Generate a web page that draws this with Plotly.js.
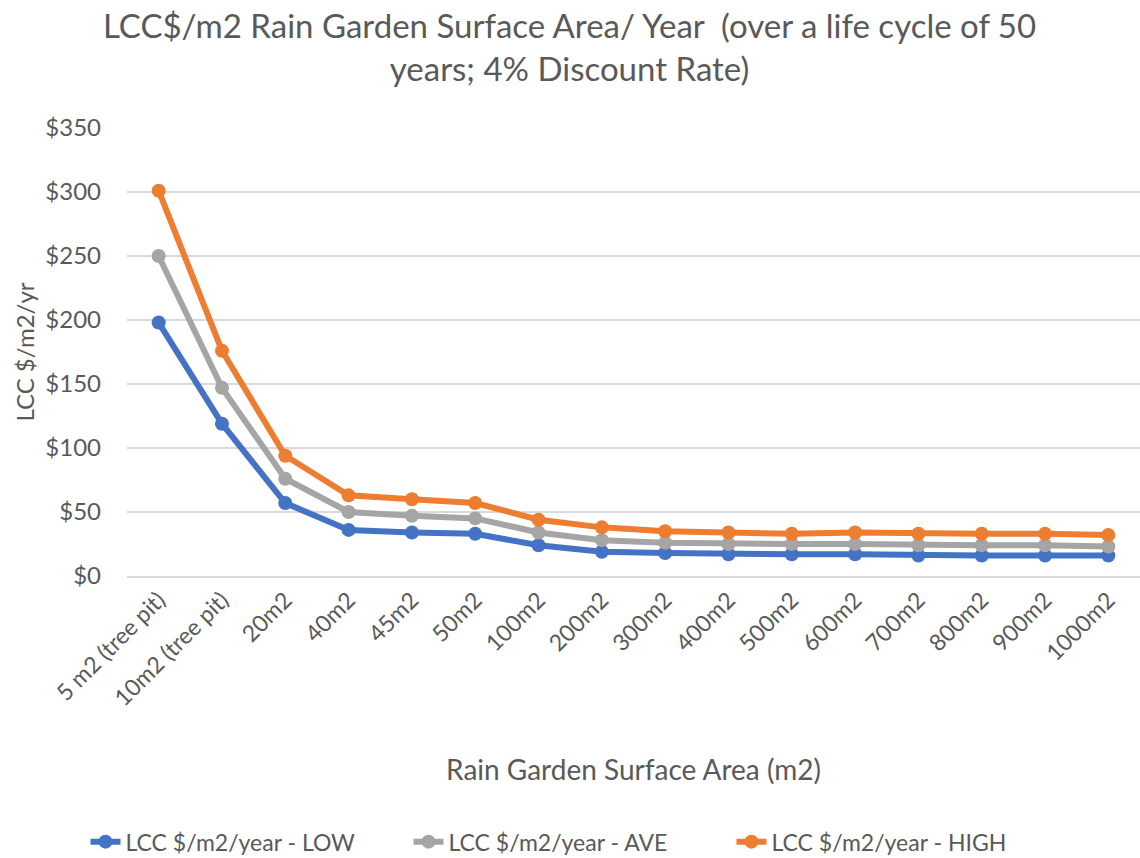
<!DOCTYPE html>
<html>
<head>
<meta charset="utf-8">
<script src="https://cdn.plot.ly/plotly-3.0.1.min.js"></script>
<style>html,body{margin:0;padding:0;background:#fff;}#chart{width:1140px;height:858px;}</style>
</head>
<body>
<div id="chart"></div>
<script>
const categories = ["5 m2 (tree pit)", "10m2 (tree pit)", "20m2", "40m2", "45m2", "50m2", "100m2", "200m2", "300m2", "400m2", "500m2", "600m2", "700m2", "800m2", "900m2", "1000m2"];
const lowValues  = [198, 119, 57, 36, 34, 33, 24, 19, 18, 17, 17, 17, 16, 16, 16, 16];
const aveValues  = [250, 147, 76, 50, 47, 45, 34, 28, 26, 25, 25, 25, 24, 24, 24, 23];
const highValues = [301, 176, 94, 63, 60, 57, 44, 38, 35, 34, 33, 34, 33, 33, 33, 32];
const seriesNames = ["LCC $/m2/year - LOW", "LCC $/m2/year - AVE", "LCC $/m2/year - HIGH"];
const seriesColors = ["#4472C4", "#A5A5A5", "#ED7D31"];
const titleText = "LCC$/m2 Rain Garden Surface Area/ Year  (over a life cycle of 50<br>years; 4% Discount Rate)";

const FONT = "Lato, 'Open Sans', sans-serif";
const TXT = "#595959";

function mk(vals, i) {
  return {
    type: "scatter", mode: "lines+markers",
    x: categories, y: vals, name: seriesNames[i],
    line: {color: seriesColors[i], width: 6},
    marker: {color: seriesColors[i], size: 14}
  };
}
const data = [mk(lowValues, 0), mk(aveValues, 1), mk(highValues, 2)];

const layout = {
  width: 1140, height: 858,
  paper_bgcolor: "#fff", plot_bgcolor: "#fff",
  margin: {l: 127, r: 0, t: 128, b: 282},
  font: {family: FONT, color: TXT},
  annotations: [{
    text: titleText, xref: "paper", yref: "paper",
    x: 0.437, y: 1.183, xanchor: "center", yanchor: "middle",
    showarrow: false, align: "center",
    font: {size: 33, color: TXT, family: FONT}
  }],
  xaxis: {
    type: "category",
    range: [-0.5, categories.length - 0.5],
    tickangle: -45,
    tickfont: {size: 23, color: TXT},
    showgrid: false,
    showline: true, linecolor: "#d9d9d9", linewidth: 1.5,
    ticks: "",
    title: {text: "Rain Garden Surface Area (m2)", font: {size: 28, color: TXT}, standoff: 50},
    automargin: false
  },
  yaxis: {
    range: [0, 350], dtick: 50, tick0: 0,
    tickprefix: "$",
    tickfont: {size: 24, color: TXT},
    ticklabelstandoff: 25,
    showgrid: true, gridcolor: "#d9d9d9", gridwidth: 1.5,
    zeroline: false,
    ticks: "",
    title: {text: "LCC $/m2/yr", font: {size: 24, color: TXT}, standoff: 3},
    automargin: false
  },
  showlegend: true,
  legend: {
    orientation: "h", x: 0.5, xref: "container", xanchor: "center",
    y: 0.019, yref: "container", yanchor: "middle",
    font: {size: 23, color: TXT},
    entrywidth: 278, entrywidthmode: "pixels"
  }
};
Plotly.newPlot("chart", data, layout, {displayModeBar: false, staticPlot: true});
</script>
</body>
</html>
